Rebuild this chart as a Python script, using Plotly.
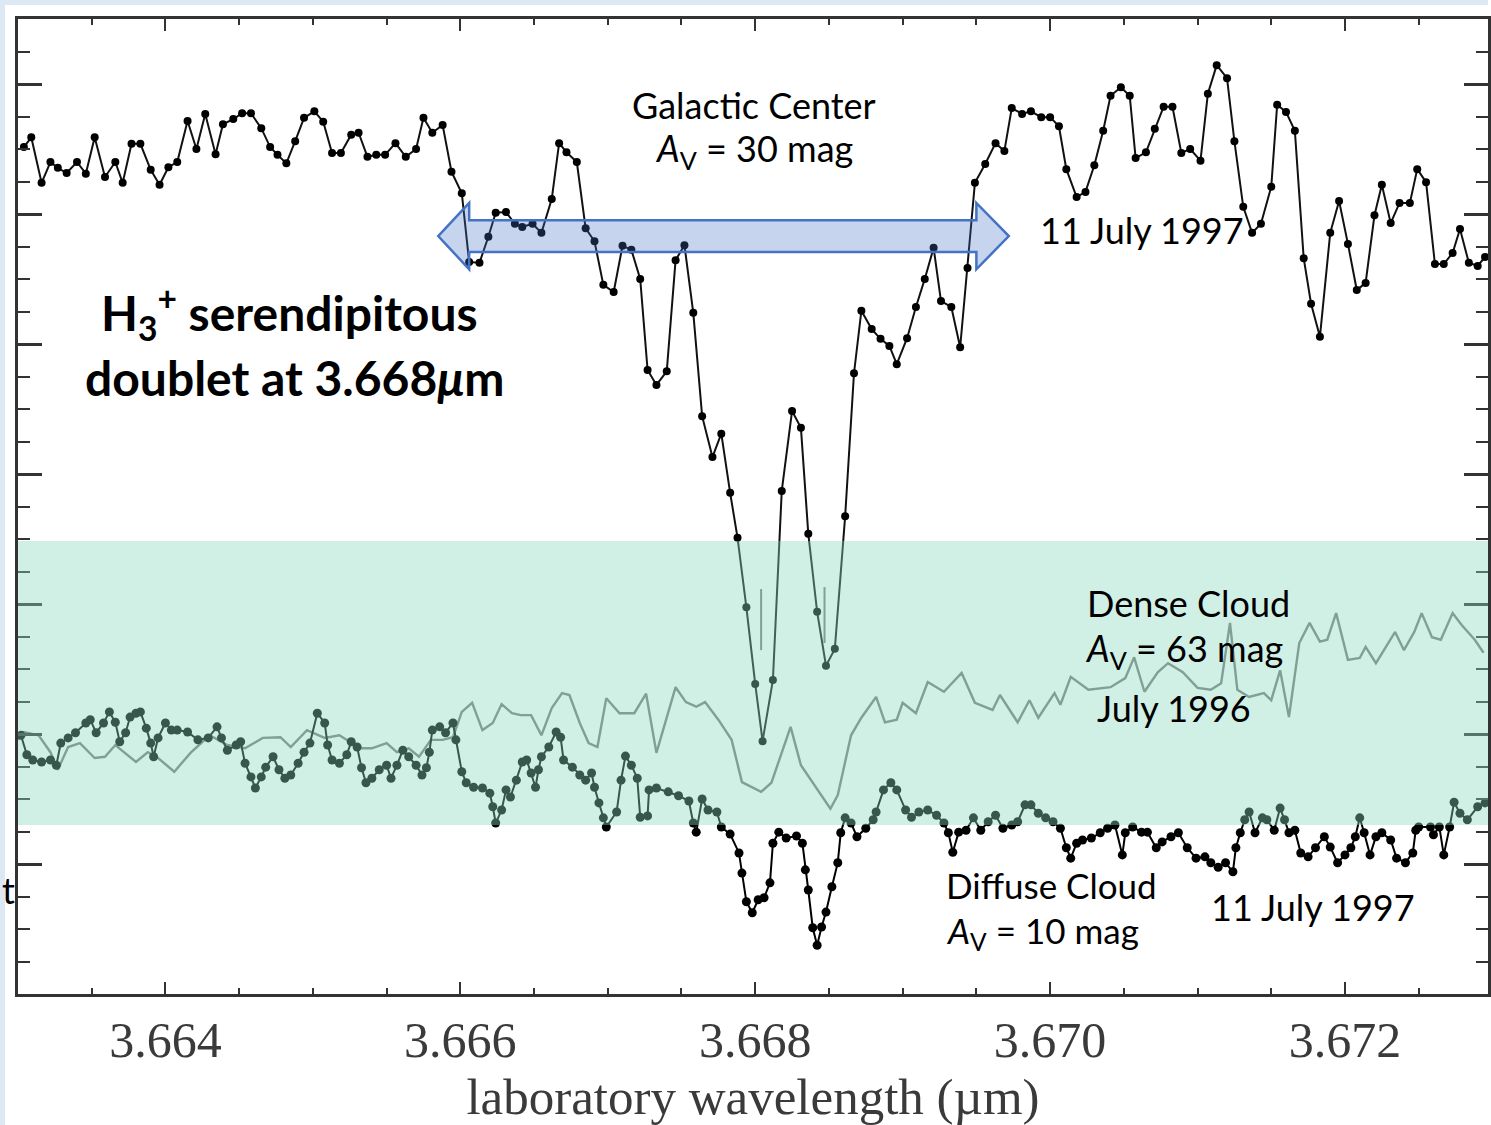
import plotly.graph_objects as go

# ---------------- data ----------------
gc_wavelength = [
    3.66304, 3.66309, 3.66316, 3.66322, 3.66327, 3.66333, 3.66340, 3.66346, 3.66352, 3.66359,
    3.66366, 3.66371, 3.66377, 3.66383, 3.66390, 3.66396, 3.66402, 3.66408, 3.66415, 3.66421,
    3.66427, 3.66434, 3.66439, 3.66446, 3.66452, 3.66458, 3.66465, 3.66471, 3.66476, 3.66482,
    3.66488, 3.66494, 3.66501, 3.66507, 3.66513, 3.66519, 3.66526, 3.66531, 3.66537, 3.66543,
    3.66549, 3.66556, 3.66563, 3.66570, 3.66575, 3.66581, 3.66588, 3.66594, 3.66601, 3.66606,
    3.66613, 3.66619, 3.66624, 3.66631, 3.66637, 3.66642, 3.66649, 3.66655, 3.66662, 3.66667,
    3.66672, 3.66679, 3.66685, 3.66691, 3.66697, 3.66704, 3.66710, 3.66716, 3.66722, 3.66727,
    3.66733, 3.66740, 3.66746, 3.66752, 3.66758, 3.66764, 3.66771, 3.66777, 3.66783, 3.66788,
    3.66794, 3.66800, 3.66805, 3.66812, 3.66818, 3.66825, 3.66831, 3.66836, 3.66842, 3.66848,
    3.66854, 3.66861, 3.66867, 3.66872, 3.66879, 3.66885, 3.66891, 3.66896, 3.66903, 3.66909,
    3.66915, 3.66921, 3.66926, 3.66933, 3.66939, 3.66944, 3.66949, 3.66956, 3.66963, 3.66969,
    3.66974, 3.66981, 3.66987, 3.66994, 3.67000, 3.67006, 3.67011, 3.67018, 3.67024, 3.67030,
    3.67036, 3.67041, 3.67048, 3.67054, 3.67058, 3.67065, 3.67071, 3.67077, 3.67083, 3.67089,
    3.67095, 3.67102, 3.67107, 3.67113, 3.67120, 3.67125, 3.67131, 3.67137, 3.67143, 3.67150,
    3.67154, 3.67160, 3.67166, 3.67172, 3.67177, 3.67183, 3.67190, 3.67196, 3.67202, 3.67208,
    3.67214, 3.67220, 3.67225, 3.67231, 3.67237, 3.67244, 3.67249, 3.67255, 3.67261, 3.67267,
    3.67273, 3.67278, 3.67284, 3.67290, 3.67295,
]
gc_flux = [
    13.03, 13.18, 12.48, 12.80, 12.71, 12.63, 12.80, 12.62, 13.18, 12.57,
    12.80, 12.48, 13.08, 13.08, 12.68, 12.45, 12.72, 12.80, 13.43, 13.00,
    13.54, 12.92, 13.38, 13.46, 13.55, 13.55, 13.32, 13.03, 12.91, 12.78,
    13.12, 13.48, 13.58, 13.42, 12.94, 12.94, 13.22, 13.25, 12.88, 12.91,
    12.91, 13.09, 12.88, 13.00, 13.48, 13.25, 13.37, 12.65, 12.32, 11.26,
    11.25, 11.65, 12.02, 12.03, 11.85, 11.80, 11.85, 11.71, 12.23, 13.09,
    12.95, 12.80, 11.78, 11.58, 10.91, 10.80, 11.51, 11.45, 11.00, 9.60,
    9.37, 9.58, 11.29, 11.52, 10.48, 8.89, 8.26, 8.62, 7.71, 7.02,
    5.95, 4.77, 3.89, 4.83, 7.74, 8.97, 8.71, 7.08, 5.88, 5.05,
    5.31, 7.35, 9.55, 10.51, 10.23, 10.08, 9.97, 9.69, 10.09, 10.57,
    11.00, 11.48, 10.66, 10.57, 9.95, 11.17, 12.48, 12.77, 13.09, 12.97,
    13.63, 13.54, 13.58, 13.49, 13.49, 13.35, 12.69, 12.26, 12.34, 12.75,
    13.28, 13.82, 13.95, 13.82, 12.86, 12.95, 13.31, 13.65, 13.65, 12.94,
    13.00, 12.82, 13.85, 14.29, 14.09, 13.12, 12.11, 11.71, 11.85, 12.42,
    13.68, 13.57, 13.28, 11.32, 10.62, 10.11, 11.71, 12.20, 11.54, 10.83,
    10.94, 11.98, 12.45, 11.86, 12.17, 12.17, 12.69, 12.49, 11.23, 11.23,
    11.40, 11.77, 11.25, 11.20, 11.34,
]

diffuse_wavelength = [
    3.66302, 3.66306, 3.66310, 3.66316, 3.66322, 3.66326, 3.66329, 3.66334, 3.66339, 3.66346,
    3.66349, 3.66353, 3.66358, 3.66362, 3.66366, 3.66369, 3.66373, 3.66376, 3.66380, 3.66383,
    3.66387, 3.66390, 3.66392, 3.66395, 3.66400, 3.66404, 3.66408, 3.66415, 3.66422, 3.66429,
    3.66435, 3.66438, 3.66442, 3.66448, 3.66451, 3.66454, 3.66458, 3.66461, 3.66465, 3.66468,
    3.66473, 3.66477, 3.66481, 3.66485, 3.66490, 3.66494, 3.66498, 3.66503, 3.66508, 3.66510,
    3.66513, 3.66518, 3.66523, 3.66526, 3.66530, 3.66533, 3.66536, 3.66540, 3.66545, 3.66550,
    3.66553, 3.66557, 3.66561, 3.66565, 3.66570, 3.66574, 3.66577, 3.66579, 3.66581, 3.66586,
    3.66590, 3.66595, 3.66597, 3.66601, 3.66604, 3.66609, 3.66615, 3.66620, 3.66622, 3.66624,
    3.66628, 3.66631, 3.66634, 3.66638, 3.66642, 3.66645, 3.66648, 3.66651, 3.66653, 3.66655,
    3.66660, 3.66665, 3.66668, 3.66670, 3.66676, 3.66681, 3.66685, 3.66689, 3.66691, 3.66694,
    3.66697, 3.66699, 3.66706, 3.66709, 3.66712, 3.66716, 3.66720, 3.66722, 3.66727, 3.66728,
    3.66733, 3.66741, 3.66748, 3.66755, 3.66758, 3.66760, 3.66764, 3.66768, 3.66774, 3.66777,
    3.66783, 3.66789, 3.66791, 3.66794, 3.66798, 3.66802, 3.66806, 3.66810, 3.66812, 3.66816,
    3.66821, 3.66828, 3.66832, 3.66834, 3.66836, 3.66839, 3.66842, 3.66845, 3.66848, 3.66852,
    3.66856, 3.66858, 3.66861, 3.66865, 3.66869, 3.66875, 3.66880, 3.66882, 3.66887, 3.66892,
    3.66896, 3.66902, 3.66906, 3.66911, 3.66917, 3.66923, 3.66928, 3.66931, 3.66934, 3.66938,
    3.66943, 3.66948, 3.66953, 3.66958, 3.66963, 3.66968, 3.66974, 3.66978, 3.66983, 3.66987,
    3.66992, 3.66997, 3.67002, 3.67007, 3.67011, 3.67014, 3.67018, 3.67022, 3.67028, 3.67034,
    3.67039, 3.67044, 3.67049, 3.67051, 3.67056, 3.67062, 3.67066, 3.67072, 3.67076, 3.67082,
    3.67087, 3.67093, 3.67099, 3.67105, 3.67109, 3.67114, 3.67119, 3.67124, 3.67126, 3.67129,
    3.67132, 3.67135, 3.67139, 3.67144, 3.67147, 3.67152, 3.67156, 3.67159, 3.67162, 3.67166,
    3.67170, 3.67175, 3.67180, 3.67186, 3.67190, 3.67195, 3.67200, 3.67204, 3.67207, 3.67210,
    3.67213, 3.67217, 3.67221, 3.67225, 3.67231, 3.67235, 3.67241, 3.67246, 3.67248, 3.67250,
    3.67258, 3.67260, 3.67264, 3.67267, 3.67271, 3.67274, 3.67278, 3.67283, 3.67290, 3.67295,
]
diffuse_flux = [
    3.98, 3.68, 3.60, 3.57, 3.60, 3.52, 3.86, 3.94, 4.02, 4.17,
    4.22, 4.02, 4.17, 4.34, 4.18, 3.88, 4.02, 4.26, 4.32, 4.34,
    4.09, 3.86, 3.65, 3.94, 4.17, 4.06, 4.06, 4.03, 3.91, 3.94,
    4.11, 3.94, 3.75, 3.83, 3.88, 3.55, 3.34, 3.17, 3.34, 3.49,
    3.65, 3.45, 3.32, 3.37, 3.55, 3.72, 3.86, 4.32, 4.17, 3.83,
    3.60, 3.55, 3.68, 3.88, 3.80, 3.48, 3.25, 3.32, 3.45, 3.52,
    3.32, 3.52, 3.75, 3.65, 3.52, 3.37, 3.48, 3.72, 4.06, 4.11,
    4.02, 4.17, 3.91, 3.42, 3.25, 3.18, 3.17, 3.09, 2.88, 2.63,
    2.83, 3.14, 3.03, 3.29, 3.57, 3.60, 3.40, 3.18, 3.45, 3.65,
    3.80, 4.03, 3.95, 3.60, 3.49, 3.37, 3.29, 3.40, 3.18, 2.94,
    2.71, 2.57, 2.80, 3.29, 3.66, 3.52, 3.32, 2.72, 2.74, 3.14,
    3.17, 3.11, 3.05, 2.97, 2.63, 2.49, 3.00, 2.83, 2.80, 2.57,
    2.46, 2.17, 1.86, 1.42, 1.25, 1.45, 1.48, 1.71, 2.32, 2.49,
    2.40, 2.43, 2.32, 1.91, 1.60, 1.02, 0.75, 1.03, 1.26, 1.65,
    2.02, 2.48, 2.71, 2.63, 2.42, 2.55, 2.68, 2.80, 3.14, 3.25,
    3.14, 2.83, 2.72, 2.80, 2.83, 2.75, 2.63, 2.48, 2.18, 2.49,
    2.52, 2.71, 2.52, 2.65, 2.75, 2.55, 2.60, 2.65, 2.91, 2.91,
    2.78, 2.71, 2.65, 2.55, 2.25, 2.09, 2.32, 2.37, 2.40, 2.48,
    2.55, 2.60, 2.14, 2.48, 2.57, 2.49, 2.49, 2.25, 2.34, 2.42,
    2.48, 2.25, 2.09, 2.11, 2.02, 1.95, 2.02, 1.88, 2.25, 2.48,
    2.68, 2.80, 2.48, 2.71, 2.68, 2.52, 2.86, 2.68, 2.48, 2.52,
    2.17, 2.11, 2.25, 2.42, 2.26, 2.02, 2.14, 2.25, 2.42, 2.71,
    2.48, 2.14, 2.42, 2.48, 2.37, 2.09, 2.02, 2.17, 2.52, 2.57,
    2.57, 2.45, 2.57, 2.14, 2.57, 2.95, 2.78, 2.68, 2.88, 2.94,
]

dense_wavelength = [
    3.66300, 3.66304, 3.66314, 3.66322, 3.66327, 3.66334, 3.66342, 3.66352, 3.66359, 3.66366,
    3.66380, 3.66388, 3.66395, 3.66406, 3.66417, 3.66430, 3.66442, 3.66454, 3.66466, 3.66478,
    3.66485, 3.66496, 3.66508, 3.66518, 3.66525, 3.66532, 3.66540, 3.66550, 3.66557, 3.66565,
    3.66572, 3.66580, 3.66588, 3.66595, 3.66601, 3.66608, 3.66615, 3.66622, 3.66628, 3.66635,
    3.66641, 3.66648, 3.66655, 3.66662, 3.66669, 3.66674, 3.66681, 3.66687, 3.66693, 3.66699,
    3.66708, 3.66718, 3.66726, 3.66733, 3.66746, 3.66753, 3.66760, 3.66766, 3.66775, 3.66784,
    3.66791, 3.66804, 3.66811, 3.66824, 3.66831, 3.66841, 3.66851, 3.66856, 3.66865, 3.66872,
    3.66882, 3.66888, 3.66896, 3.66900, 3.66909, 3.66917, 3.66928, 3.66940, 3.66949, 3.66961,
    3.66966, 3.66978, 3.66986, 3.66992, 3.67003, 3.67007, 3.67014, 3.67026, 3.67041, 3.67051,
    3.67057, 3.67064, 3.67073, 3.67080, 3.67090, 3.67100, 3.67109, 3.67116, 3.67122, 3.67127,
    3.67135, 3.67145, 3.67150, 3.67156, 3.67162, 3.67169, 3.67176, 3.67183, 3.67188, 3.67194,
    3.67202, 3.67210, 3.67214, 3.67221, 3.67227, 3.67234, 3.67240, 3.67247, 3.67252, 3.67259,
    3.67265, 3.67273, 3.67279, 3.67288, 3.67294,
]
dense_flux = [
    3.91, 4.03, 3.98, 3.72, 3.45, 3.80, 3.86, 3.63, 3.65, 3.83,
    3.57, 3.72, 3.63, 3.42, 3.71, 3.98, 3.83, 3.78, 3.94, 3.95,
    3.80, 4.06, 3.94, 3.98, 3.88, 3.78, 3.78, 3.86, 3.72, 3.78,
    3.65, 3.91, 3.91, 3.95, 4.34, 4.48, 4.06, 4.17, 4.46, 4.32,
    4.29, 4.29, 3.98, 4.40, 4.63, 4.60, 4.17, 3.86, 3.80, 4.55,
    4.32, 4.32, 4.62, 3.71, 4.72, 4.49, 4.42, 4.49, 4.22, 3.91,
    3.26, 3.11, 3.25, 4.11, 3.52, 3.18, 2.85, 3.06, 3.98, 4.25,
    4.57, 4.18, 4.22, 4.48, 4.32, 4.80, 4.65, 4.94, 4.48, 4.37,
    4.60, 4.18, 4.52, 4.25, 4.63, 4.45, 4.88, 4.68, 4.72, 4.86,
    5.18, 4.65, 4.95, 5.09, 4.95, 4.71, 4.68, 4.78, 5.71, 4.68,
    4.57, 4.63, 4.52, 4.98, 4.26, 5.40, 5.71, 5.42, 5.45, 5.86,
    5.14, 5.17, 5.34, 5.09, 5.32, 5.57, 5.29, 5.57, 5.86, 5.49,
    5.45, 5.86, 5.68, 5.45, 5.25,
]

# thin vertical features near the doublet
spike_wavelength = [3.66804, 3.66804, None, 3.66847, 3.66847]
spike_flux = [6.23, 5.29, None, 6.26, 5.40]

# highlighted band (flux range) and arrow extents (data units)
band_low, band_high = 2.60, 6.97
arrow_tip_left, arrow_base_left = 3.66585, 3.66606
arrow_base_right, arrow_tip_right = 3.66950, 3.66972
arrow_mid, arrow_shaft_half, arrow_head_half = 11.66, 0.245, 0.51

x_range = [3.663, 3.67297]
y_range = [0, 15]

# ---------------- figure ----------------
W, H = 1491, 1125
ml, mr, mt, mb = 18, 0, 19, 131
pw, ph = W - ml - mr, H - mt - mb

fig = go.Figure()

fig.add_trace(go.Scatter(
    x=dense_wavelength, y=dense_flux, mode="lines",
    line=dict(color="#7a7a7a", width=2.4), hoverinfo="skip", showlegend=False))
fig.add_trace(go.Scatter(
    x=spike_wavelength, y=spike_flux, mode="lines",
    line=dict(color="#7a7a7a", width=2), hoverinfo="skip", showlegend=False))
fig.add_trace(go.Scatter(
    x=diffuse_wavelength, y=diffuse_flux, mode="lines+markers",
    line=dict(color="black", width=2),
    marker=dict(color="black", size=9, symbol="circle"),
    hoverinfo="skip", showlegend=False))
fig.add_trace(go.Scatter(
    x=gc_wavelength, y=gc_flux, mode="lines+markers",
    line=dict(color="#111111", width=2),
    marker=dict(color="black", size=8, symbol="circle"),
    hoverinfo="skip", showlegend=False))

shapes = []
# translucent band over the spectra
shapes.append(dict(type="rect", xref="paper", yref="y", x0=0, x1=1,
                   y0=band_low, y1=band_high, layer="above",
                   fillcolor="rgba(137,217,192,0.40)", line=dict(width=0)))
# double-headed block arrow
yt, yb = arrow_mid + arrow_shaft_half, arrow_mid - arrow_shaft_half
ht, hb = arrow_mid + arrow_head_half, arrow_mid - arrow_head_half
path = (f"M {arrow_tip_left},{arrow_mid} L {arrow_base_left},{ht} L {arrow_base_left},{yt} "
        f"L {arrow_base_right},{yt} L {arrow_base_right},{ht} L {arrow_tip_right},{arrow_mid} "
        f"L {arrow_base_right},{hb} L {arrow_base_right},{yb} L {arrow_base_left},{yb} "
        f"L {arrow_base_left},{hb} Z")
shapes.append(dict(type="path", path=path, xref="x", yref="y", layer="above",
                   fillcolor="rgba(68,114,196,0.30)", line=dict(color="#4472c4", width=2.5)))
# slide frame strips (light blue) at the left and top edges
shapes.append(dict(type="rect", xref="paper", yref="paper",
                   x0=-ml / pw, x1=(5 - ml) / pw, y0=-mb / ph, y1=(ph + mt) / ph,
                   fillcolor="#dde8f5", line=dict(width=0), layer="above"))
shapes.append(dict(type="rect", xref="paper", yref="paper",
                   x0=-ml / pw, x1=1, y0=(ph + mt - 5) / ph, y1=(ph + mt) / ph,
                   fillcolor="#dde8f5", line=dict(width=0), layer="above"))

sans = "Lato, Carlito, 'Open Sans', sans-serif"
txt = dict(color="black", family=sans, size=36)
big = dict(color="black", family=sans, size=48)

annotations = [
    dict(x=3.66799, y=13.68, text="Galactic Center", font=txt),
    dict(x=3.66799, y=12.98, text="<i>A</i><sub>V</sub> = 30 mag", font=txt),
    dict(x=3.66992, y=11.75, text="11 July 1997", font=txt, xanchor="left"),
    dict(x=3.66484, y=10.48, text="<b>H<sub>3</sub><sup>+</sup> serendipitous</b>", font=big),
    dict(x=3.66488, y=9.49, text="<b>doublet at 3.668<i>μ</i>m</b>", font=big),
    dict(x=3.67094, y=6.02, text="Dense Cloud", font=txt),
    dict(x=3.67091, y=5.29, text="<i>A</i><sub>V</sub> = 63 mag", font=txt),
    dict(x=3.67084, y=4.40, text="July 1996", font=txt),
    dict(x=3.66928, y=1.68, text="Diffuse Cloud", font=dict(color="black", family=sans, size=35)),
    dict(x=3.66928, y=0.95, text="<i>A</i><sub>V</sub> = 10 mag", font=dict(color="black", family=sans, size=35)),
    dict(x=3.67178, y=1.34, text="11 July 1997", font=txt),
    dict(x=-ml / pw, y=0.1067, xref="paper", yref="paper",
         text="t", font=dict(color="black", family=sans, size=36)),
]
for a in annotations:
    a.setdefault("xref", "x")
    a.setdefault("yref", "y")
    a.setdefault("yanchor", "middle")
    a["showarrow"] = False
for a in annotations[8:10] + annotations[11:]:
    a["xanchor"] = "left"
for a in annotations:
    a.setdefault("xanchor", "center")

axis_col = "#333333"
serif = "'Liberation Serif', 'DejaVu Serif', serif"
fig.update_layout(
    width=W, height=H,
    margin=dict(l=ml, r=mr, t=mt, b=mb, pad=0),
    paper_bgcolor="white", plot_bgcolor="white",
    shapes=shapes, annotations=annotations,
    xaxis=dict(
        range=x_range, showgrid=False, zeroline=False,
        showline=True, linecolor=axis_col, linewidth=3, mirror="ticks",
        tickmode="linear", tick0=3.664, dtick=0.002, tickformat=".3f",
        ticks="inside", ticklen=12, tickwidth=2, tickcolor=axis_col,
        ticklabelstandoff=0,
        tickfont=dict(family=serif, size=50, color="#3a3a3a"),
        minor=dict(tick0=3.663, dtick=0.0005, ticks="inside", ticklen=6,
                   tickwidth=2, tickcolor=axis_col, showgrid=False),
        title=dict(text="laboratory wavelength (µm)", standoff=14,
                   font=dict(family=serif, size=51, color="#3a3a3a")),
    ),
    yaxis=dict(
        range=y_range, showgrid=False, zeroline=False,
        showline=True, linecolor=axis_col, linewidth=3, mirror="ticks",
        tickmode="linear", tick0=0, dtick=2, showticklabels=False,
        ticks="inside", ticklen=24, tickwidth=2.5, tickcolor=axis_col,
        minor=dict(tick0=0, dtick=0.5, ticks="inside", ticklen=12,
                   tickwidth=2, tickcolor=axis_col, showgrid=False),
    ),
)

fig.write_html("out.html")
